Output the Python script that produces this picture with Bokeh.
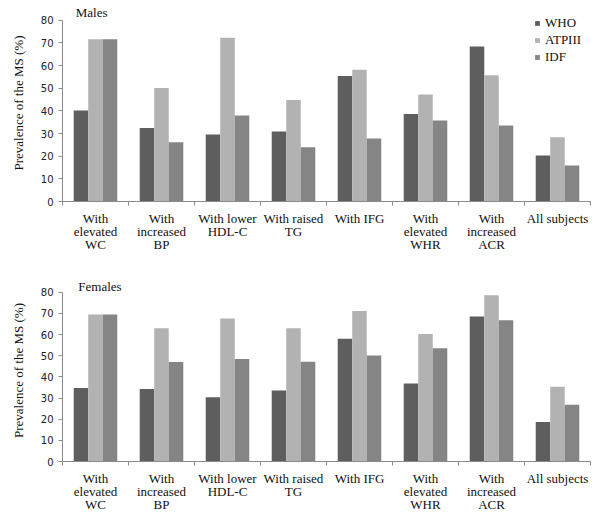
import numpy as np
from bokeh.plotting import figure
from bokeh.layouts import column
from bokeh.models import ColumnDataSource, Range1d, FixedTicker, Legend, LegendItem, Label
from bokeh.transform import dodge
from bokeh.embed import file_html
from bokeh.resources import INLINE

categories = ["With\nelevated\nWC", "With\nincreased\nBP", "With lower\nHDL-C", "With raised\nTG",
              "With IFG", "With\nelevated\nWHR", "With\nincreased\nACR", "All subjects"]
series = ["WHO", "ATPIII", "IDF"]

males_who = [40.2, 32.5, 29.6, 30.9, 55.4, 38.6, 68.5, 20.3]
males_atp = [71.6, 50.1, 72.3, 44.8, 58.2, 47.3, 55.7, 28.4]
males_idf = [71.6, 26.2, 38.0, 24.0, 27.8, 35.8, 33.6, 15.9]

females_who = [34.7, 34.2, 30.4, 33.6, 58.0, 36.9, 68.5, 18.7]
females_atp = [69.5, 63.0, 67.6, 63.0, 71.1, 60.2, 78.6, 35.3]
females_idf = [69.5, 47.0, 48.4, 47.1, 50.1, 53.5, 66.8, 26.8]

y_ticks = [0, 10, 20, 30, 40, 50, 60, 70, 80]

colors = ["#5e5e5e", "#b2b2b2", "#858585"]
SERIF = "Liberation Serif"
SANS = "DejaVu Sans"


def make_panel(title, title_x, title_y, who, atp, idf, y_max, frame_h, top, bottom, show_legend):
    x = list(np.arange(len(categories)) + 0.5)
    src = ColumnDataSource(dict(x=x, WHO=who, ATPIII=atp, IDF=idf))
    p = figure(frame_width=528, frame_height=frame_h, output_backend="svg", toolbar_location=None,
               x_range=Range1d(0, len(categories)), y_range=Range1d(0, y_max),
               min_border_left=62, min_border_right=8, min_border_top=top, min_border_bottom=bottom)
    p.outline_line_color = None
    p.xgrid.grid_line_color = None
    p.ygrid.grid_line_color = None
    p.background_fill_color = "white"

    renderers = []
    offsets = [-0.22, 0.0, 0.22]
    for s, c, off in zip(series, colors, offsets):
        r = p.vbar(x=dodge("x", off), top=s, width=0.22, bottom=0, source=src,
                   fill_color=c, line_color=None)
        renderers.append(r)

    # y axis
    p.yaxis.ticker = FixedTicker(ticks=y_ticks)
    p.yaxis.bounds = (0, 80)
    p.yaxis.axis_line_color = "#8a8a8a"
    p.yaxis.major_tick_line_color = "#8a8a8a"
    p.yaxis.major_tick_out = 4
    p.yaxis.major_tick_in = 0
    p.yaxis.minor_tick_line_color = None
    p.yaxis.major_label_text_font = SANS
    p.yaxis.major_label_text_font_size = "10px"
    p.yaxis.major_label_text_color = "#222222"
    p.yaxis.major_label_standoff = 5
    p.yaxis.axis_label = "Prevalence of the MS (%)"
    p.yaxis.axis_label_text_font = SERIF
    p.yaxis.axis_label_text_font_style = "normal"
    p.yaxis.axis_label_text_font_size = "13px"
    p.yaxis.axis_label_text_color = "#111111"
    p.yaxis.axis_label_standoff = 12

    # x axis: labels at centres, ticks at boundaries
    p.xaxis.ticker = FixedTicker(ticks=x, minor_ticks=list(range(len(categories) + 1)))
    p.xaxis.major_label_overrides = {float(xx): lab for xx, lab in zip(x, categories)}
    p.xaxis.major_tick_line_color = None
    p.xaxis.minor_tick_line_color = "#8a8a8a"
    p.xaxis.minor_tick_out = 4
    p.xaxis.minor_tick_in = 0
    p.xaxis.axis_line_color = "#8a8a8a"
    p.xaxis.major_label_text_font = SERIF
    p.xaxis.major_label_text_font_size = "13px"
    p.xaxis.major_label_text_color = "#111111"
    p.xaxis.major_label_text_line_height = 0.88
    p.xaxis.major_label_standoff = 3

    p.add_layout(Label(x=title_x, y=title_y, text=title, text_font=SERIF,
                       text_font_size="13px", text_color="#111111", text_baseline="middle"))

    if show_legend:
        legend = Legend(items=[LegendItem(label=s, renderers=[r]) for s, r in zip(series, renderers)],
                        location=(472, 136), orientation="vertical",
                        label_text_font=SERIF, label_text_font_size="13px",
                        label_text_color="#111111", glyph_width=6, glyph_height=6,
                        label_standoff=5, spacing=1, padding=0, margin=0,
                        label_height=13, border_line_color=None, background_fill_alpha=0)
        p.add_layout(legend)
    return p


top = make_panel("Males", 0.20, 83.5, males_who, males_atp, males_idf, 87, 197, 4, 70, True)
bot = make_panel("Females", 0.24, 82.5, females_who, females_atp, females_idf, 86, 182, 8, 56, False)

layout = column(top, bot, spacing=0)
open("out.html", "w").write(file_html(layout, INLINE))
